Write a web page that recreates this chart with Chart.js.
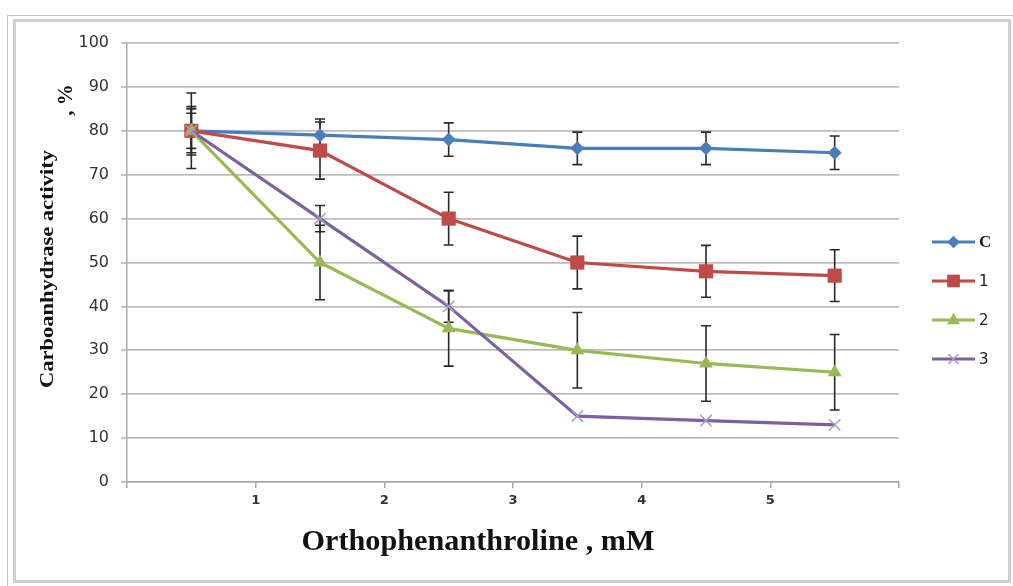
<!DOCTYPE html>
<html>
<head>
<meta charset="utf-8">
<script src="https://cdn.jsdelivr.net/npm/chart.js@4/dist/chart.umd.min.js"></script>
<style>
  html,body{margin:0;padding:0;background:#fff;}
  #wrap{position:relative;width:1013px;height:586px;overflow:hidden;}
  #outer{position:absolute;left:7px;top:15px;width:1020px;height:600px;border-left:1px solid #c4c4c4;border-top:1px solid #c4c4c4;}
  #inner{position:absolute;left:13px;top:19px;width:998px;height:564px;box-sizing:border-box;border:3px solid #d0d0d0;}
  canvas{position:absolute;left:0;top:0;}
</style>
</head>
<body>
<div id="wrap">
  <div id="outer"></div>
  <div id="inner"></div>
  <canvas id="c" width="1013" height="586"></canvas>
</div>
<script>
// ---- data ----
const xValues = [0.5, 1.5, 2.5, 3.5, 4.5, 5.5];
const xTickLabels = [1, 2, 3, 4, 5];
const seriesNames = ['C', '1', '2', '3'];
const seriesC = [80, 79, 78, 76, 76, 75];
const series1 = [80, 75.5, 60, 50, 48, 47];
const series2 = [80, 50, 35, 30, 27, 25];
const series3 = [80, 60, 40, 15, 14, 13];
const errC = [4, 3.7, 3.8, 3.7, 3.7, 3.8];
const err1 = [5.5, 6.5, 6, 6, 5.9, 5.9];
const err2 = [8.6, 8.5, 8.6, 8.6, 8.6, 8.6];
const err3 = [5, 3, 3.6, 0, 0, 0];

const allSeries = [seriesC, series1, series2, series3];
const allErr = [errC, err1, err2, err3];
const colors = ['#4a7ebb', '#be4b48', '#98b954', '#7d60a0'];
const markerColors = ['#4a7ebb', '#be4b48', '#98b954', '#a999c9'];
const styles = ['rectRot', 'rect', 'triangle', 'crossRot'];
const radii = [7, 10, 8, 8];

function drawMarker(ctx, style, x, y, r, color) {
  ctx.save();
  ctx.fillStyle = color; ctx.strokeStyle = color;
  ctx.beginPath();
  if (style === 'rectRot') {
    ctx.moveTo(x, y - r); ctx.lineTo(x + r, y); ctx.lineTo(x, y + r); ctx.lineTo(x - r, y); ctx.closePath(); ctx.fill();
  } else if (style === 'rect') {
    const s = r * Math.SQRT1_2; ctx.rect(x - s, y - s, 2 * s, 2 * s); ctx.fill();
  } else if (style === 'triangle') {
    ctx.moveTo(x, y - r); ctx.lineTo(x + r * 0.9, y + r * 0.6); ctx.lineTo(x - r * 0.9, y + r * 0.6); ctx.closePath(); ctx.fill();
  } else {
    const s = r * Math.SQRT1_2; ctx.lineWidth = 1.5;
    ctx.moveTo(x - s, y - s); ctx.lineTo(x + s, y + s); ctx.moveTo(x + s, y - s); ctx.lineTo(x - s, y + s); ctx.stroke();
  }
  ctx.restore();
}

const errorBars = {
  id: 'errorBars',
  beforeDatasetsDraw(chart) {
    const ctx = chart.ctx, xs = chart.scales.x, ys = chart.scales.y;
    ctx.save();
    ctx.strokeStyle = '#2a2a2a'; ctx.lineWidth = 1.6;
    allSeries.forEach((s, i) => {
      s.forEach((v, j) => {
        const e = allErr[i][j];
        if (!e) return;
        const x = xs.getPixelForValue(xValues[j]);
        const yt = ys.getPixelForValue(v + e), yb = ys.getPixelForValue(v - e);
        ctx.beginPath();
        ctx.moveTo(x, yt); ctx.lineTo(x, yb);
        ctx.moveTo(x - 5, yt); ctx.lineTo(x + 5, yt);
        ctx.moveTo(x - 5, yb); ctx.lineTo(x + 5, yb);
        ctx.stroke();
      });
    });
    ctx.restore();
  }
};

const extras = {
  id: 'extras',
  afterDraw(chart) {
    const ctx = chart.ctx;
    ctx.save();
    // legend
    const ly = [242, 281, 320, 359];
    seriesNames.forEach((n, i) => {
      ctx.strokeStyle = colors[i]; ctx.lineWidth = 3;
      ctx.beginPath(); ctx.moveTo(932, ly[i]); ctx.lineTo(975, ly[i]); ctx.stroke();
      drawMarker(ctx, styles[i], 953.5, ly[i], radii[i] * 0.9, markerColors[i]);
      ctx.fillStyle = '#222';
      ctx.textBaseline = 'middle'; ctx.textAlign = 'left';
      ctx.font = (i === 0 ? 'bold 17px "Liberation Serif"' : '15px "DejaVu Sans"');
      ctx.fillText(n, 979, ly[i] + 1);
    });
    // x title
    ctx.fillStyle = '#111';
    ctx.font = 'bold 29px "Liberation Serif"';
    ctx.textAlign = 'center'; ctx.textBaseline = 'middle';
    const xt = 'Orthophenanthroline , mM';
    const wX = ctx.measureText(xt).width;
    ctx.save(); ctx.translate(478, 543); ctx.scale(353 / wX, 1); ctx.fillText(xt, 0, 0); ctx.restore();
    // y title
    ctx.font = 'bold 19px "Liberation Serif"';
    const yt = 'Carboanhydrase activity';
    const wY = ctx.measureText(yt).width;
    ctx.save(); ctx.translate(48, 269); ctx.rotate(-Math.PI / 2); ctx.scale(238 / wY, 1); ctx.fillText(yt, 0, 0); ctx.restore();
    ctx.font = 'bold 21px "Liberation Serif"';
    ctx.save(); ctx.translate(67, 100); ctx.rotate(-Math.PI / 2); ctx.fillText(', %', 0, 0); ctx.restore();
    ctx.restore();
  }
};

const datasets = seriesNames.map((n, i) => ({
  label: n,
  data: allSeries[i].map((v, j) => ({ x: xValues[j], y: v })),
  borderColor: colors[i],
  backgroundColor: markerColors[i],
  pointBackgroundColor: markerColors[i],
  pointBorderColor: markerColors[i],
  pointStyle: styles[i],
  pointRadius: radii[i],
  pointBorderWidth: i === 3 ? 1.5 : 0,
  borderWidth: 3.2,
  tension: 0,
  order: 4 - i
}));

new Chart(document.getElementById('c'), {
  type: 'line',
  data: { datasets },
  options: {
    responsive: false,
    animation: false,
    events: [],
    layout: { padding: { left: 0, right: 114, top: 43, bottom: 0 } },
    plugins: { legend: { display: false }, tooltip: { enabled: false } },
    scales: {
      x: {
        type: 'linear', min: 0, max: 6,
        afterFit(s) { s.height = 104; },
        ticks: {
          stepSize: 1, padding: 5, color: '#333',
          font: { family: 'DejaVu Sans', size: 13, weight: 'bold' },
          callback: (v) => xTickLabels.includes(v) ? String(v) : ''
        },
        grid: { drawOnChartArea: false, drawTicks: true, tickLength: 6, color: '#a8a8a8', lineWidth: 1.5 },
        border: { display: true, color: '#a8a8a8', width: 1.5 }
      },
      y: {
        min: 0, max: 100,
        afterFit(s) { s.width = 127; },
        ticks: { stepSize: 10, padding: 12, color: '#333', font: { family: 'DejaVu Sans', size: 16 } },
        grid: { color: '#bcbcbc', lineWidth: 1.8, tickLength: 6, drawTicks: true },
        border: { display: true, color: '#a8a8a8', width: 1.5 }
      }
    }
  },
  plugins: [errorBars, extras]
});
</script>
</body>
</html>
